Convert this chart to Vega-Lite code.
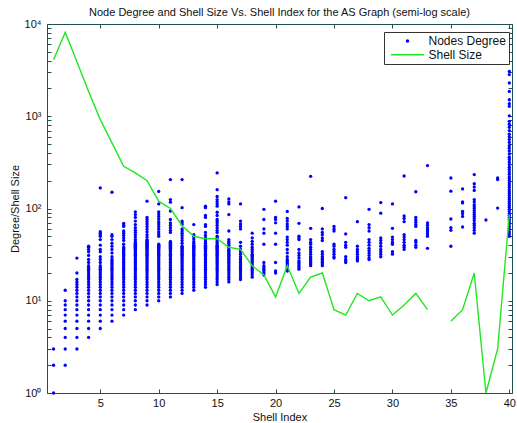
{
  "$schema": "https://vega.github.io/schema/vega-lite/v6.json",
  "width": 465,
  "height": 369,
  "autosize": {"type": "none"},
  "padding": {"left": 47, "top": 24, "right": 5, "bottom": 30},
  "background": "white",
  "title": {"text": "Node Degree and Shell Size Vs. Shell Index for the AS Graph (semi-log scale)", "font": "Liberation Sans", "fontSize": 11, "fontWeight": "normal", "color": "#111111", "anchor": "middle", "frame": "group", "offset": 7, "dy": 7},
  "config": {
    "view": {"stroke": "#1f4f4f", "strokeWidth": 1},
    "font": "Liberation Sans",
    "axis": {"domain": false, "grid": false, "tickColor": "#1f4f4f", "tickWidth": 1, "labelFont": "Liberation Sans", "labelFontSize": 11, "labelColor": "#111111", "titleFont": "Liberation Sans", "titleFontSize": 11, "titleFontWeight": "normal", "titleColor": "#111111", "labelOverlap": false, "labelFlush": false}
  },
  "datasets": {
    "degrees": [
      {"k":1,"d":1},{"k":1,"d":2},{"k":1,"d":3},
      {"k":2,"d":2},{"k":2,"d":3},{"k":2,"d":4},{"k":2,"d":5},{"k":2,"d":6},{"k":2,"d":7},{"k":2,"d":8},{"k":2,"d":9},{"k":2,"d":10},{"k":2,"d":13},
      {"k":3,"d":3},{"k":3,"d":4},{"k":3,"d":5},{"k":3,"d":6},{"k":3,"d":7},{"k":3,"d":8},{"k":3,"d":9},{"k":3,"d":10},{"k":3,"d":11},{"k":3,"d":12},{"k":3,"d":13},{"k":3,"d":14},{"k":3,"d":15},{"k":3,"d":16},{"k":3,"d":17},{"k":3,"d":20},{"k":3,"d":29},
      {"k":4,"d":4},{"k":4,"d":5},{"k":4,"d":6},{"k":4,"d":7},{"k":4,"d":8},{"k":4,"d":9},{"k":4,"d":10},{"k":4,"d":11},{"k":4,"d":12},{"k":4,"d":13},{"k":4,"d":14},{"k":4,"d":15},{"k":4,"d":16},{"k":4,"d":17},{"k":4,"d":18},{"k":4,"d":19},{"k":4,"d":20},{"k":4,"d":21},{"k":4,"d":22},{"k":4,"d":23},{"k":4,"d":24},{"k":4,"d":26},{"k":4,"d":28},{"k":4,"d":31},{"k":4,"d":34},{"k":4,"d":36},{"k":4,"d":38},{"k":4,"d":39},
      {"k":5,"d":5},{"k":5,"d":6},{"k":5,"d":7},{"k":5,"d":8},{"k":5,"d":9},{"k":5,"d":10},{"k":5,"d":11},{"k":5,"d":12},{"k":5,"d":13},{"k":5,"d":14},{"k":5,"d":15},{"k":5,"d":16},{"k":5,"d":17},{"k":5,"d":18},{"k":5,"d":19},{"k":5,"d":20},{"k":5,"d":21},{"k":5,"d":22},{"k":5,"d":23},{"k":5,"d":24},{"k":5,"d":26},{"k":5,"d":28},{"k":5,"d":30},{"k":5,"d":34},{"k":5,"d":36},{"k":5,"d":40},{"k":5,"d":46},{"k":5,"d":50},{"k":5,"d":52},{"k":5,"d":54},{"k":5,"d":56},{"k":5,"d":167},
      {"k":6,"d":6},{"k":6,"d":7},{"k":6,"d":8},{"k":6,"d":9},{"k":6,"d":10},{"k":6,"d":11},{"k":6,"d":12},{"k":6,"d":13},{"k":6,"d":14},{"k":6,"d":15},{"k":6,"d":16},{"k":6,"d":17},{"k":6,"d":18},{"k":6,"d":19},{"k":6,"d":20},{"k":6,"d":21},{"k":6,"d":22},{"k":6,"d":23},{"k":6,"d":24},{"k":6,"d":25},{"k":6,"d":26},{"k":6,"d":27},{"k":6,"d":28},{"k":6,"d":30},{"k":6,"d":33},{"k":6,"d":36},{"k":6,"d":39},{"k":6,"d":42},{"k":6,"d":46},{"k":6,"d":50},{"k":6,"d":52},{"k":6,"d":150},
      {"k":7,"d":7},{"k":7,"d":8},{"k":7,"d":9},{"k":7,"d":10},{"k":7,"d":11},{"k":7,"d":12},{"k":7,"d":13},{"k":7,"d":14},{"k":7,"d":15},{"k":7,"d":16},{"k":7,"d":17},{"k":7,"d":18},{"k":7,"d":19},{"k":7,"d":20},{"k":7,"d":21},{"k":7,"d":22},{"k":7,"d":23},{"k":7,"d":24},{"k":7,"d":25},{"k":7,"d":26},{"k":7,"d":27},{"k":7,"d":28},{"k":7,"d":29},{"k":7,"d":30},{"k":7,"d":31},{"k":7,"d":32},{"k":7,"d":33},{"k":7,"d":34},{"k":7,"d":35},{"k":7,"d":36},{"k":7,"d":37},{"k":7,"d":38},{"k":7,"d":41},{"k":7,"d":45},{"k":7,"d":48},{"k":7,"d":51},{"k":7,"d":54},{"k":7,"d":57},{"k":7,"d":64},{"k":7,"d":66},{"k":7,"d":69},
      {"k":8,"d":8},{"k":8,"d":9},{"k":8,"d":10},{"k":8,"d":11},{"k":8,"d":12},{"k":8,"d":13},{"k":8,"d":14},{"k":8,"d":15},{"k":8,"d":16},{"k":8,"d":17},{"k":8,"d":18},{"k":8,"d":19},{"k":8,"d":20},{"k":8,"d":21},{"k":8,"d":22},{"k":8,"d":23},{"k":8,"d":24},{"k":8,"d":25},{"k":8,"d":26},{"k":8,"d":27},{"k":8,"d":28},{"k":8,"d":29},{"k":8,"d":30},{"k":8,"d":31},{"k":8,"d":32},{"k":8,"d":33},{"k":8,"d":34},{"k":8,"d":35},{"k":8,"d":36},{"k":8,"d":37},{"k":8,"d":38},{"k":8,"d":39},{"k":8,"d":40},{"k":8,"d":41},{"k":8,"d":42},{"k":8,"d":44},{"k":8,"d":46},{"k":8,"d":49},{"k":8,"d":52},{"k":8,"d":55},{"k":8,"d":58},{"k":8,"d":62},{"k":8,"d":67},{"k":8,"d":73},{"k":8,"d":80},{"k":8,"d":86},{"k":8,"d":92},
      {"k":9,"d":9},{"k":9,"d":10},{"k":9,"d":11},{"k":9,"d":12},{"k":9,"d":13},{"k":9,"d":14},{"k":9,"d":15},{"k":9,"d":16},{"k":9,"d":17},{"k":9,"d":18},{"k":9,"d":19},{"k":9,"d":20},{"k":9,"d":21},{"k":9,"d":22},{"k":9,"d":23},{"k":9,"d":24},{"k":9,"d":25},{"k":9,"d":26},{"k":9,"d":27},{"k":9,"d":28},{"k":9,"d":29},{"k":9,"d":30},{"k":9,"d":31},{"k":9,"d":32},{"k":9,"d":33},{"k":9,"d":34},{"k":9,"d":35},{"k":9,"d":36},{"k":9,"d":37},{"k":9,"d":38},{"k":9,"d":39},{"k":9,"d":40},{"k":9,"d":41},{"k":9,"d":42},{"k":9,"d":43},{"k":9,"d":44},{"k":9,"d":45},{"k":9,"d":46},{"k":9,"d":49},{"k":9,"d":52},{"k":9,"d":56},{"k":9,"d":60},{"k":9,"d":64},{"k":9,"d":68},{"k":9,"d":72},{"k":9,"d":76},{"k":9,"d":80},{"k":9,"d":120},
      {"k":10,"d":10},{"k":10,"d":11},{"k":10,"d":12},{"k":10,"d":13},{"k":10,"d":14},{"k":10,"d":15},{"k":10,"d":16},{"k":10,"d":17},{"k":10,"d":18},{"k":10,"d":19},{"k":10,"d":20},{"k":10,"d":21},{"k":10,"d":22},{"k":10,"d":23},{"k":10,"d":24},{"k":10,"d":25},{"k":10,"d":26},{"k":10,"d":27},{"k":10,"d":28},{"k":10,"d":29},{"k":10,"d":30},{"k":10,"d":31},{"k":10,"d":32},{"k":10,"d":33},{"k":10,"d":34},{"k":10,"d":35},{"k":10,"d":36},{"k":10,"d":37},{"k":10,"d":38},{"k":10,"d":39},{"k":10,"d":40},{"k":10,"d":41},{"k":10,"d":50},{"k":10,"d":53},{"k":10,"d":56},{"k":10,"d":60},{"k":10,"d":64},{"k":10,"d":68},{"k":10,"d":72},{"k":10,"d":77},{"k":10,"d":82},{"k":10,"d":87},{"k":10,"d":92},{"k":10,"d":112},{"k":10,"d":153},
      {"k":11,"d":11},{"k":11,"d":12},{"k":11,"d":13},{"k":11,"d":14},{"k":11,"d":15},{"k":11,"d":16},{"k":11,"d":17},{"k":11,"d":18},{"k":11,"d":19},{"k":11,"d":20},{"k":11,"d":21},{"k":11,"d":22},{"k":11,"d":23},{"k":11,"d":24},{"k":11,"d":25},{"k":11,"d":26},{"k":11,"d":27},{"k":11,"d":28},{"k":11,"d":29},{"k":11,"d":30},{"k":11,"d":31},{"k":11,"d":32},{"k":11,"d":33},{"k":11,"d":34},{"k":11,"d":35},{"k":11,"d":36},{"k":11,"d":37},{"k":11,"d":38},{"k":11,"d":39},{"k":11,"d":40},{"k":11,"d":41},{"k":11,"d":42},{"k":11,"d":43},{"k":11,"d":44},{"k":11,"d":55},{"k":11,"d":58},{"k":11,"d":62},{"k":11,"d":66},{"k":11,"d":70},{"k":11,"d":76},{"k":11,"d":94},{"k":11,"d":117},{"k":11,"d":125},{"k":11,"d":206},
      {"k":12,"d":12},{"k":12,"d":13},{"k":12,"d":14},{"k":12,"d":15},{"k":12,"d":16},{"k":12,"d":17},{"k":12,"d":18},{"k":12,"d":19},{"k":12,"d":20},{"k":12,"d":21},{"k":12,"d":22},{"k":12,"d":23},{"k":12,"d":24},{"k":12,"d":25},{"k":12,"d":26},{"k":12,"d":27},{"k":12,"d":28},{"k":12,"d":29},{"k":12,"d":30},{"k":12,"d":31},{"k":12,"d":32},{"k":12,"d":33},{"k":12,"d":34},{"k":12,"d":35},{"k":12,"d":36},{"k":12,"d":37},{"k":12,"d":38},{"k":12,"d":39},{"k":12,"d":42},{"k":12,"d":45},{"k":12,"d":48},{"k":12,"d":51},{"k":12,"d":54},{"k":12,"d":57},{"k":12,"d":60},{"k":12,"d":67},{"k":12,"d":70},{"k":12,"d":73},{"k":12,"d":102},{"k":12,"d":206},
      {"k":13,"d":13},{"k":13,"d":14},{"k":13,"d":15},{"k":13,"d":16},{"k":13,"d":17},{"k":13,"d":18},{"k":13,"d":19},{"k":13,"d":20},{"k":13,"d":21},{"k":13,"d":22},{"k":13,"d":23},{"k":13,"d":24},{"k":13,"d":25},{"k":13,"d":26},{"k":13,"d":27},{"k":13,"d":28},{"k":13,"d":29},{"k":13,"d":30},{"k":13,"d":31},{"k":13,"d":32},{"k":13,"d":33},{"k":13,"d":34},{"k":13,"d":35},{"k":13,"d":36},{"k":13,"d":37},{"k":13,"d":38},{"k":13,"d":39},{"k":13,"d":40},{"k":13,"d":42},{"k":13,"d":44},{"k":13,"d":47},{"k":13,"d":50},{"k":13,"d":52},{"k":13,"d":67},
      {"k":14,"d":14},{"k":14,"d":15},{"k":14,"d":16},{"k":14,"d":17},{"k":14,"d":18},{"k":14,"d":19},{"k":14,"d":20},{"k":14,"d":21},{"k":14,"d":22},{"k":14,"d":23},{"k":14,"d":24},{"k":14,"d":25},{"k":14,"d":26},{"k":14,"d":27},{"k":14,"d":28},{"k":14,"d":29},{"k":14,"d":30},{"k":14,"d":31},{"k":14,"d":32},{"k":14,"d":33},{"k":14,"d":34},{"k":14,"d":35},{"k":14,"d":36},{"k":14,"d":37},{"k":14,"d":38},{"k":14,"d":39},{"k":14,"d":40},{"k":14,"d":42},{"k":14,"d":44},{"k":14,"d":46},{"k":14,"d":48},{"k":14,"d":51},{"k":14,"d":55},{"k":14,"d":64},{"k":14,"d":67},{"k":14,"d":80},{"k":14,"d":84},{"k":14,"d":102},{"k":14,"d":106},
      {"k":15,"d":15},{"k":15,"d":16},{"k":15,"d":17},{"k":15,"d":18},{"k":15,"d":19},{"k":15,"d":20},{"k":15,"d":21},{"k":15,"d":22},{"k":15,"d":23},{"k":15,"d":24},{"k":15,"d":25},{"k":15,"d":26},{"k":15,"d":27},{"k":15,"d":28},{"k":15,"d":29},{"k":15,"d":30},{"k":15,"d":31},{"k":15,"d":32},{"k":15,"d":33},{"k":15,"d":34},{"k":15,"d":35},{"k":15,"d":36},{"k":15,"d":37},{"k":15,"d":38},{"k":15,"d":39},{"k":15,"d":40},{"k":15,"d":42},{"k":15,"d":44},{"k":15,"d":46},{"k":15,"d":48},{"k":15,"d":50},{"k":15,"d":55},{"k":15,"d":58},{"k":15,"d":62},{"k":15,"d":66},{"k":15,"d":70},{"k":15,"d":73},{"k":15,"d":76},{"k":15,"d":84},{"k":15,"d":91},{"k":15,"d":106},{"k":15,"d":112},{"k":15,"d":118},{"k":15,"d":125},{"k":15,"d":135},{"k":15,"d":160},{"k":15,"d":243},
      {"k":16,"d":16},{"k":16,"d":17},{"k":16,"d":18},{"k":16,"d":19},{"k":16,"d":20},{"k":16,"d":21},{"k":16,"d":22},{"k":16,"d":23},{"k":16,"d":24},{"k":16,"d":25},{"k":16,"d":26},{"k":16,"d":27},{"k":16,"d":28},{"k":16,"d":29},{"k":16,"d":30},{"k":16,"d":31},{"k":16,"d":32},{"k":16,"d":33},{"k":16,"d":34},{"k":16,"d":35},{"k":16,"d":36},{"k":16,"d":38},{"k":16,"d":40},{"k":16,"d":42},{"k":16,"d":44},{"k":16,"d":46},{"k":16,"d":57},{"k":16,"d":86},{"k":16,"d":112},{"k":16,"d":118},{"k":16,"d":127},
      {"k":17,"d":17},{"k":17,"d":18},{"k":17,"d":19},{"k":17,"d":20},{"k":17,"d":21},{"k":17,"d":22},{"k":17,"d":23},{"k":17,"d":24},{"k":17,"d":25},{"k":17,"d":26},{"k":17,"d":27},{"k":17,"d":28},{"k":17,"d":29},{"k":17,"d":30},{"k":17,"d":32},{"k":17,"d":34},{"k":17,"d":36},{"k":17,"d":39},{"k":17,"d":43},{"k":17,"d":60},{"k":17,"d":64},{"k":17,"d":68},{"k":17,"d":73},{"k":17,"d":112},
      {"k":18,"d":18},{"k":18,"d":19},{"k":18,"d":20},{"k":18,"d":21},{"k":18,"d":22},{"k":18,"d":23},{"k":18,"d":24},{"k":18,"d":25},{"k":18,"d":26},{"k":18,"d":27},{"k":18,"d":28},{"k":18,"d":29},{"k":18,"d":30},{"k":18,"d":31},{"k":18,"d":32},{"k":18,"d":34},{"k":18,"d":36},{"k":18,"d":38},{"k":18,"d":41},{"k":18,"d":44},{"k":18,"d":48},{"k":18,"d":54},
      {"k":19,"d":19},{"k":19,"d":20},{"k":19,"d":21},{"k":19,"d":22},{"k":19,"d":23},{"k":19,"d":24},{"k":19,"d":26},{"k":19,"d":41},{"k":19,"d":54},{"k":19,"d":60},{"k":19,"d":76},{"k":19,"d":98},
      {"k":20,"d":20},{"k":20,"d":21},{"k":20,"d":26},{"k":20,"d":41},{"k":20,"d":54},{"k":20,"d":70},{"k":20,"d":76},{"k":20,"d":80},{"k":20,"d":120},
      {"k":21,"d":21},{"k":21,"d":22},{"k":21,"d":23},{"k":21,"d":24},{"k":21,"d":25},{"k":21,"d":26},{"k":21,"d":27},{"k":21,"d":28},{"k":21,"d":30},{"k":21,"d":33},{"k":21,"d":36},{"k":21,"d":40},{"k":21,"d":43},{"k":21,"d":46},{"k":21,"d":49},{"k":21,"d":60},{"k":21,"d":64},{"k":21,"d":68},{"k":21,"d":73},{"k":21,"d":78},{"k":21,"d":93},
      {"k":22,"d":22},{"k":22,"d":23},{"k":22,"d":24},{"k":22,"d":25},{"k":22,"d":26},{"k":22,"d":27},{"k":22,"d":29},{"k":22,"d":31},{"k":22,"d":33},{"k":22,"d":36},{"k":22,"d":46},{"k":22,"d":48},{"k":22,"d":50},{"k":22,"d":69},{"k":22,"d":104},
      {"k":23,"d":24},{"k":23,"d":25},{"k":23,"d":26},{"k":23,"d":27},{"k":23,"d":28},{"k":23,"d":29},{"k":23,"d":30},{"k":23,"d":32},{"k":23,"d":34},{"k":23,"d":36},{"k":23,"d":38},{"k":23,"d":41},{"k":23,"d":43},{"k":23,"d":46},{"k":23,"d":61},{"k":23,"d":223},
      {"k":24,"d":24},{"k":24,"d":25},{"k":24,"d":26},{"k":24,"d":27},{"k":24,"d":28},{"k":24,"d":29},{"k":24,"d":30},{"k":24,"d":32},{"k":24,"d":34},{"k":24,"d":45},{"k":24,"d":48},{"k":24,"d":52},{"k":24,"d":55},{"k":24,"d":60},{"k":24,"d":100},
      {"k":25,"d":29},{"k":25,"d":30},{"k":25,"d":32},{"k":25,"d":34},{"k":25,"d":36},{"k":25,"d":39},{"k":25,"d":41},{"k":25,"d":57},{"k":25,"d":60},{"k":25,"d":64},
      {"k":26,"d":26},{"k":26,"d":27},{"k":26,"d":28},{"k":26,"d":30},{"k":26,"d":38},{"k":26,"d":40},{"k":26,"d":43},{"k":26,"d":53},{"k":26,"d":131},
      {"k":27,"d":27},{"k":27,"d":28},{"k":27,"d":29},{"k":27,"d":30},{"k":27,"d":32},{"k":27,"d":34},{"k":27,"d":36},{"k":27,"d":39},{"k":27,"d":72},
      {"k":28,"d":28},{"k":28,"d":29},{"k":28,"d":31},{"k":28,"d":33},{"k":28,"d":35},{"k":28,"d":37},{"k":28,"d":40},{"k":28,"d":43},{"k":28,"d":46},{"k":28,"d":57},{"k":28,"d":62},{"k":28,"d":67},{"k":28,"d":98},
      {"k":29,"d":30},{"k":29,"d":32},{"k":29,"d":34},{"k":29,"d":36},{"k":29,"d":39},{"k":29,"d":42},{"k":29,"d":45},{"k":29,"d":48},{"k":29,"d":89},{"k":29,"d":116},
      {"k":30,"d":32},{"k":30,"d":34},{"k":30,"d":41},{"k":30,"d":43},{"k":30,"d":46},{"k":30,"d":49},{"k":30,"d":61},{"k":30,"d":112},
      {"k":31,"d":36},{"k":31,"d":38},{"k":31,"d":40},{"k":31,"d":43},{"k":31,"d":46},{"k":31,"d":49},{"k":31,"d":52},{"k":31,"d":72},{"k":31,"d":78},{"k":31,"d":83},{"k":31,"d":225},
      {"k":32,"d":38},{"k":32,"d":40},{"k":32,"d":43},{"k":32,"d":45},{"k":32,"d":64},{"k":32,"d":67},{"k":32,"d":71},{"k":32,"d":75},{"k":32,"d":80},{"k":32,"d":152},
      {"k":33,"d":37},{"k":33,"d":50},{"k":33,"d":53},{"k":33,"d":56},{"k":33,"d":59},{"k":33,"d":62},{"k":33,"d":66},{"k":33,"d":70},{"k":33,"d":292},
      {"k":35,"d":39},{"k":35,"d":58},{"k":35,"d":62},{"k":35,"d":77},{"k":35,"d":154},{"k":35,"d":214},
      {"k":36,"d":63},{"k":36,"d":82},{"k":36,"d":88},{"k":36,"d":93},{"k":36,"d":115},{"k":36,"d":118},{"k":36,"d":163},
      {"k":37,"d":54},{"k":37,"d":58},{"k":37,"d":62},{"k":37,"d":66},{"k":37,"d":69},{"k":37,"d":74},{"k":37,"d":78},{"k":37,"d":82},{"k":37,"d":86},{"k":37,"d":90},{"k":37,"d":95},{"k":37,"d":100},{"k":37,"d":105},{"k":37,"d":110},{"k":37,"d":118},{"k":37,"d":125},{"k":37,"d":157},{"k":37,"d":171},{"k":37,"d":186},{"k":37,"d":233},
      {"k":38,"d":75},
      {"k":39,"d":101},{"k":39,"d":206},{"k":39,"d":214},
      {"k":40,"d":50},{"k":40,"d":53},{"k":40,"d":56},{"k":40,"d":60},{"k":40,"d":64},{"k":40,"d":68},{"k":40,"d":72},{"k":40,"d":76},{"k":40,"d":80},{"k":40,"d":84},{"k":40,"d":88},{"k":40,"d":93},{"k":40,"d":98},{"k":40,"d":103},{"k":40,"d":108},{"k":40,"d":113},{"k":40,"d":119},{"k":40,"d":125},{"k":40,"d":131},{"k":40,"d":138},{"k":40,"d":145},{"k":40,"d":152},{"k":40,"d":160},{"k":40,"d":170},{"k":40,"d":180},{"k":40,"d":190},{"k":40,"d":200},{"k":40,"d":210},{"k":40,"d":220},{"k":40,"d":235},{"k":40,"d":250},{"k":40,"d":265},{"k":40,"d":280},{"k":40,"d":300},{"k":40,"d":320},{"k":40,"d":340},{"k":40,"d":360},{"k":40,"d":390},{"k":40,"d":420},{"k":40,"d":450},{"k":40,"d":480},{"k":40,"d":520},{"k":40,"d":560},{"k":40,"d":600},{"k":40,"d":640},{"k":40,"d":700},{"k":40,"d":760},{"k":40,"d":820},{"k":40,"d":880},{"k":40,"d":1010},{"k":40,"d":1280},{"k":40,"d":1370},{"k":40,"d":1510},{"k":40,"d":1860},{"k":40,"d":2300},{"k":40,"d":2830},{"k":40,"d":3060}
    ],
    "shells": [
      {"k":1,"s":4100},{"k":2,"s":8100},{"k":3,"s":3900},{"k":4,"s":1860},{"k":5,"s":920},{"k":6,"s":514},{"k":7,"s":287},{"k":8,"s":243},{"k":9,"s":200},{"k":10,"s":120},
      {"k":11,"s":100},{"k":12,"s":65},{"k":13,"s":50},{"k":14,"s":47},{"k":15,"s":47},{"k":16,"s":38},{"k":17,"s":36},{"k":18,"s":24},{"k":19,"s":19},{"k":20,"s":11},
      {"k":21,"s":24},{"k":22,"s":12},{"k":23,"s":18},{"k":24,"s":20},{"k":25,"s":8},{"k":26,"s":7},{"k":27,"s":12},{"k":28,"s":10},{"k":29,"s":11},{"k":30,"s":7},
      {"k":31,"s":9},{"k":32,"s":12},{"k":33,"s":8},{"k":34,"s":null},{"k":35,"s":6},{"k":36,"s":8},{"k":37,"s":20},{"k":38,"s":1},{"k":39,"s":3},{"k":40,"s":86}
    ]
  },
  "layer": [
    {
      "data": {"name": "degrees"},
      "mark": {"type": "point", "filled": true, "size": 11, "opacity": 1},
      "encoding": {
        "x": {"field": "k", "type": "quantitative", "scale": {"domain": [0.44, 40.23], "nice": false, "zero": false},
              "axis": {"orient": "bottom", "values": [5,10,15,20,25,30,35,40], "tickSize": -4, "labelPadding": 8, "title": "Shell Index", "titlePadding": 3}},
        "y": {"field": "d", "type": "quantitative", "scale": {"type": "log", "domain": [1, 10000], "nice": false},
              "axis": {"orient": "left", "values": [1,2,3,4,5,6,7,8,9,10,20,30,40,50,60,70,80,90,100,200,300,400,500,600,700,800,900,1000,2000,3000,4000,5000,6000,7000,8000,9000,10000], "tickSize": -4, "labelPadding": 10, "labelExpr": "datum.value == 1 ? '10⁰' : datum.value == 10 ? '10¹' : datum.value == 100 ? '10²' : datum.value == 1000 ? '10³' : datum.value == 10000 ? '10⁴' : ''", "title": "Degree/Shell Size", "titlePadding": 4}},
        "color": {"datum": "Nodes Degree", "type": "nominal", "scale": {"domain": ["Nodes Degree", "Shell Size"], "range": ["#0000ff", "#22e622"]},
                  "legend": {"title": null, "orient": "none", "legendX": 337, "legendY": 8, "padding": 3, "strokeColor": "#333333", "fillColor": "#ffffff", "symbolSize": 4, "symbolOffset": 14.5, "labelOffset": 15, "labelFontSize": 12, "labelFont": "Liberation Sans", "labelColor": "#111111", "rowPadding": 1.7,
                             "encode": {"symbols": {"update": {"stroke": {"scale": "color", "field": "value"}, "strokeWidth": {"value": 1.4}}}}}},
        "shape": {"datum": "Nodes Degree", "type": "nominal", "scale": {"domain": ["Nodes Degree", "Shell Size"], "range": ["circle", "M -16.5 0 L 16.5 0"]},
                  "legend": {"title": null, "orient": "none", "legendX": 337, "legendY": 8, "padding": 3, "strokeColor": "#333333", "fillColor": "#ffffff", "symbolSize": 4, "symbolOffset": 14.5, "labelOffset": 15, "labelFontSize": 12, "labelFont": "Liberation Sans", "labelColor": "#111111", "rowPadding": 1.7}}
      }
    },
    {
      "data": {"name": "shells"},
      "mark": {"type": "line", "strokeWidth": 1.4, "invalid": "break-paths-show-domains"},
      "encoding": {
        "x": {"field": "k", "type": "quantitative", "axis": {"orient": "top", "values": [5,10,15,20,25,30,35,40], "tickSize": -4, "labels": false, "title": null}},
        "y": {"field": "s", "type": "quantitative", "axis": {"orient": "right", "values": [1,2,3,4,5,6,7,8,9,10,20,30,40,50,60,70,80,90,100,200,300,400,500,600,700,800,900,1000,2000,3000,4000,5000,6000,7000,8000,9000,10000], "tickSize": -4, "labels": false, "title": null}},
        "color": {"datum": "Shell Size", "type": "nominal"}
      }
    }
  ],
  "resolve": {"axis": {"x": "independent", "y": "independent"}}
}
